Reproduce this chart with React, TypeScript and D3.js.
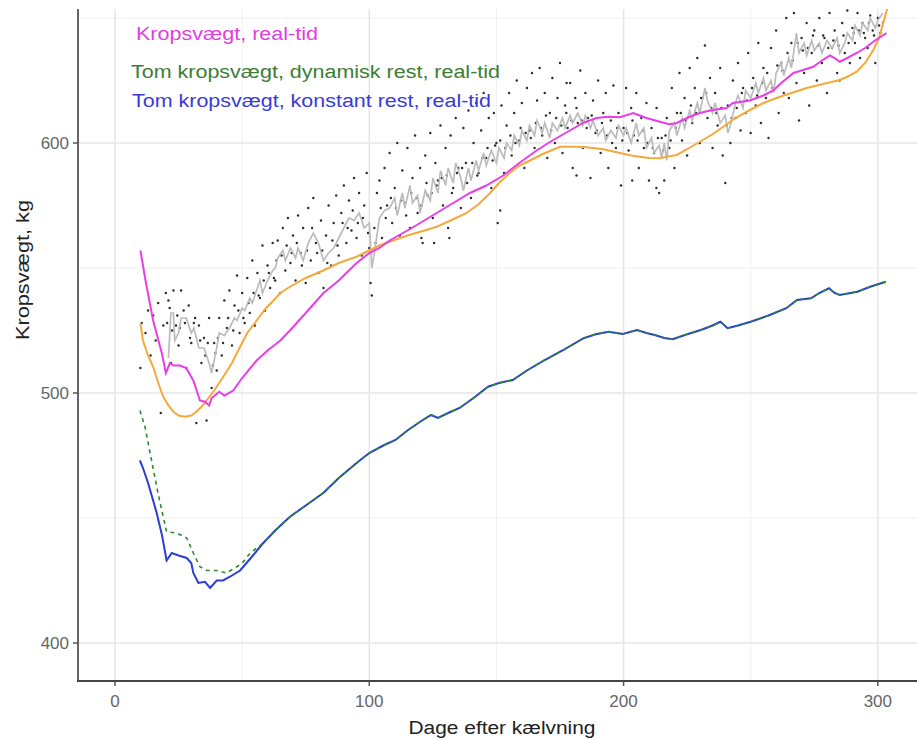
import React from "react";
import * as d3 from "d3";

type P = [number, number];

const xTicks = [0, 100, 200, 300];
const xMinor = [50, 150, 250];
const yTicks = [400, 500, 600];
const yMinor = [450, 550, 650];

const legendLabels = [
  "Kropsvægt, real-tid",
  "Tom kropsvægt, dynamisk rest, real-tid",
  "Tom kropsvægt, konstant rest, real-tid",
];

const rawDots: P[] = [
  [10,510],[10.5,528],[12,524],[13,533],[14,515],[15,531],[16,521],[17,536],[18,492],[19,527],[20,540],
  [21,537],[22,512],[23,541],[24,527],[25,519],[26,541],[27,533],[28,510],[29,535],[30,520],[31,528],[32,488],[33,527],[34,512],[35,522],[36,489],[37,530],[38,502],[39,520],[40,509],
  [41,530],[42,515],[43,537],[44,526],[45,541],[46,519],[47,535],[48,547],[49,524],[50,540],[51,528],[52,546],[53,532],[54,553],[55,527],[56,548],[57,538],[58,559],[59,533],[60,551],[61,542],[62,560],[63,545],
  [64,561],[65,540],[66,566],[67,549],[68,570],[69,552],[70,563],[71,545],[72,571],[73,556],[74,566],[75,544],[76,574],[77,553],[78,578],[79,560],[80,548],[81,569],[82,542],[83,563],[84,575],[85,551],[86,568],[87,579],[88,555],[89,572],[90,583],[91,560],[92,577],[93,565],[94,586],[95,562],[96,580],[97,555],[98,575],[99,588],[100,558],[100.5,544],[101,539],[102,566],[103,580],
  [104,585],[105,562],[106,590],[107,575],[108,596],[109,568],[110,582],[111,600],[112,563],[113,589],[114,576],[115,598],[116,566],[117,586],[118,603],[119,572],[120,590],[120.5,562],[121,560],[122,595],[123,579],[124,604],[125,570],[125.5,560],[126,592],[127,585],[128,607],[129,575],[130,598],[131,566],[131.5,562],[132,603],[133,582],[134,610],[135,590],[136,574],[137,606],[138,592],[139,613],[140,578],[141,600],[142,616],[143,588],[144,605],[145,620],[146,594],[147,610],[148,582],[149,612],[150,600],[150.5,568],[151.5,573],
  [152,615],[153,588],[154,607],[155,620],[156,595],[157,612],[158,625],[159,601],[160,616],[161,590],[162,622],[163,605],[164,628],[165,598],[166,617],[167,630],[168,603],[169,620],[170,594],[171,612],[172,626],[173,600],[174,618],[175,632],[176,596],[177,615],[177.6,624],[178,606],[179,624],[180,590],[181,618],[181.5,587],[182,608],[183,629],[184,598],[185,620],[186,610],[187,586],[188,617],[189,604],[190,625],[191,596],[192,612],[193,620],[194,590],[195,609],[196,623],[197,598],[198,612],[199,583],[200,606],[201,622],[202,597],[203,614],[203.4,585],[204,603],[205,620],[206,590],[207,610],[208,598],[209,616],[210,585],[211,606],[212,596],[212.9,582],[213,614],[214,580],[215,602],
  [216,585],[217,610],[218,598],[219,622],[220,590],[221,612],[222,628],[223,601],[224,618],[225,595],[226,630],[227,608],[228,622],[229,634],[230,600],[231,618],[232,639],[233,610],[234,626],[235,598],[236,620],[237,607],[238,630],[239,595],[240,584],[241,615],[242,600],[243,625],[244,610],[245,632],[246,605],[247,622],[248,612],[249,636],[250,604],[251,626],[252,615],[253,640],[254,608],[255,630],[256,618],[257,602],[258,638],[259,622],[260,645],[261,612],[262,632],[263,620],[264,650],[265,618],[266,640],[267,652],[268,624],[269,609],[270,642],[271,628],[272,648],[273,615],[274,636],[275,645],[276,625],[277,650],[278,632],[279,642],[280,620],[281,652],[282,638],[283,645],[284,628],[285,625],[286,648],[287,636],[288,653],[289,632],[290,646],[291,640],[292,652],[293,634],[294,648],[295,642],[296,638],[297,651],[298,645],[299,632],[300,650],[301,644],[302,648],
];

const nearDots: P[] = [
  [20.5,528],[21.5,534],[22.5,525],[24.5,531],[25.5,526],[27.5,528],[29.5,522],[31.5,530],[33.5,521],[35.5,515],[36.5,520],[38.5,511],[39.5,516],
  [40.5,522],[42.5,520],[44.5,530],[46.5,525],[48.5,533],[50.5,530],[52.5,536],[54.5,540],[56.5,539],[58.5,545],[60.5,548],[62.5,546],[63.5,553],
  [65.5,555],[67.5,559],[69.5,556],[71.5,560],[73.5,551],[75.5,557],[77.5,566],[79.5,556],[81.5,557],[83.5,552],[85.5,561],[87.5,559],[89.5,568],[91.5,566],[93.5,573],[95.5,568],[97.5,570],[99.5,564],
  [102.5,560],[104.5,574],[106.5,570],[108.5,578],[110.5,574],[112.5,577],[114.5,571],[116.5,580],[118.5,578],[120.5,575],[122.5,584],[124.5,580],[126.5,583],[128.5,586],[130.5,587],[132.5,580],[134.5,588],[136.5,590],[138.5,584],[140.5,592],[142.5,587],[144.5,594],[146.5,598],[148.5,593],[149.5,599],
  [151.5,601],[153.5,598],[155.5,603],[157.5,600],[159.5,606],[161.5,604],[163.5,602],[165.5,608],[167.5,606],[169.5,611],[171.5,605],[173.5,610],[175.5,607],[177.5,612],[179.5,609],[181.5,614],[183.5,609],[185.5,606],[187.5,611],[189.5,605],[191.5,608],[193.5,603],[195.5,600],[197.5,606],[199.5,601],[201.5,604],[203.5,609],[205.5,601],[207.5,605],[209.5,600],[211.5,598],[213.5,602],[215.5,597],
  [216.5,603],[218.5,601],[220.5,606],[222.5,612],[224.5,609],[226.5,615],[228.5,612],[230.5,618],[232.5,620],[234.5,614],[236.5,612],[238.5,614],[240.5,607],[242.5,610],[244.5,614],[246.5,620],[248.5,617],[250.5,622],[252.5,619],[254.5,624],[256.5,628],[258.5,622],[260.5,631],[262.5,629],[264.5,636],[266.5,633],[268.5,640],[270.5,637],[272.5,638],[274.5,643],[276.5,639],[278.5,643],[280.5,638],[282.5,641],[284.5,639],[286.5,643],[288.5,640],[290.5,644],[292.5,645],[294.5,644],[296.5,648],[298.5,643],[300.5,647],
];

const grayLine: P[] = [
  [21,514],[22,532],[23,532],[23.5,521],[25,524],[26,530],[28,530],[30,524],[31,526],[33,518],[35,518],[37,512],[38,508],[39,513],[40,518],[41,524],[43,523],[45,526],[47,530],[48,529],[50,534],[51,533],[53,538],[54,536],[56,542],[57,545],[58,540],[60,545],[62,549],[63,550],[64,554],[66,557],[67,553],[69,558],[71,554],[72,558],[74,553],[76,560],[78,564],[80,560],[82,553],[84,556],[86,558],[88,562],[90,566],[92,570],[94,569],[96,572],[98,566],[100,568],[101,550],[102,556],[104,570],[106,573],[108,574],
  [110,578],[111,571],[113,580],[114,574],[116,583],[117,576],[119,579],[120,572],[122,581],[124,577],[125,586],[127,580],[128,589],[130,583],[131,590],[133,584],[134,592],[136,586],[137,581],[139,590],[140,585],[142,593],[143,589],[145,596],[146,591],[148,597],[150,592],
  [151,598],[153,594],[154,600],[156,597],[157,603],[159,599],[160,605],[162,601],[163,607],[165,603],[166,609],[168,604],[169,608],[171,602],[172,608],[174,605],[176,610],[177,606],[179,611],[180,608],[182,612],[184,607],[185,611],[187,606],[188,609],[190,603],[192,606],[193,601],[195,605],[197,602],[198,607],[200,603],[201,606],[203,600],[205,608],[206,603],[208,606],[209,598],[211,602],[212,596],[214,599],[215,594],
  [216,600],[217,593],[218,605],[220,608],[221,603],[223,610],[224,606],[226,613],[227,609],[229,616],[230,612],[232,622],[233,617],[235,612],[236,616],[238,608],[240,611],[241,604],[242,607],[244,616],[245,619],[247,614],[248,621],[250,618],[252,624],[253,620],[255,626],[256,621],[258,625],[259,620],[260,628],[262,632],[263,627],[265,634],[266,630],[268,644],[269,636],[271,640],[272,635],[274,641],[275,637],[277,640],[278,636],[280,641],[282,638],[284,642],[285,636],[287,640],[288,644],[290,641],[291,647],[293,643],[294,648],[296,645],[297,650],[299,646],[300,649],[302,652],
];

const magentaLine: P[] = [
  [10,557],[12,545],[15,529],[18.4,516],[20,508],[21.6,512],[23,511],[25.6,511],[28,510],[30.8,505],[33.4,497],[35.4,496.5],[37,495],[38,498],[41,500.5],[43,499],[46.5,501],[50,506],[55.7,513],[60,517],[65,521],[68.8,525],[75,532],[82,540],[88,545],[95,552],[100,556],[104,558],[108,561],[115,565],[120,568],[126.5,572],[133,576],[139.6,580],[146,583],[152.7,587],[159,592],[165.8,597],[172,601],[178.9,605],[184,608],[189.4,610],[194,610.5],[198.6,610.3],[203.8,612],[206.4,611],[209,610],[214.3,608.5],[218,607.5],[220.9,608],[226,610.5],[230,612],[234,613],[240.5,614],[243,616],[249.7,617],[255,619],[258.9,621],[262,624],[266.8,628],[270,629],[274.6,630.5],[278,633],[281.2,635],[283,634],[285,632.5],[288,634],[291.7,636],[295,638],[298.2,640.5],[303.4,644],
];

const orangeLine: P[] = [
  [10,528],[11,521],[13,515],[15,510.5],[17,504],[19,498.5],[21,495],[23,492.5],[25,491],[27.5,490.5],[30,491],[32,492.5],[34,494.5],[36,497],[39,501],[42.6,506.5],[46,512],[49.2,518.5],[52,524],[55.7,529],[59,533.5],[62.3,537],[65,540],[68.8,542.5],[75,546],[81.9,549],[88,552],[95,554.5],[100,557],[104,559],[109.4,561],[115,563],[120,564.5],[126.5,566.5],[132,569],[138.3,572],[143,575.5],[147.5,580],[151,584],[155.3,588],[159,591],[163.2,593],[168,595.5],[175,598.5],[180,598.5],[185.5,598.3],[192,597.5],[198.6,596],[203,595],[206.4,594.5],[210,594],[214.3,593.9],[217,594.5],[220.9,595.2],[225,597.5],[230,600.5],[235,603.5],[239.2,606.5],[244,610],[249.7,613.2],[255,616],[261.5,618.5],[266,620],[272,622],[278,623.5],[285.1,625.2],[288,626.5],[291.7,628.5],[295,632],[298.2,637.2],[300.5,642],[302.1,648],[303.5,653],[304.5,658],
];

const blueLine: P[] = [
  [9.8,473],[11,470],[13,464],[15,457],[16.4,452],[18.5,443],[20.3,433],[22.3,436],[25,435],[28.2,434],[30,432],[30.8,428],[32.8,424],[35.4,424.5],[37.4,422],[40,425],[42.5,425],[45.2,426.5],[49.2,429],[53,433.5],[58.3,440],[63,445],[68.8,450.5],[75,455],[81.9,460],[88,466],[95,472],[100,476],[105.5,479],[110.3,481.2],[115,485],[120,488.5],[124.3,491.2],[127,490],[131,492],[135.5,494],[141,498],[146.7,502.5],[151,504],[156.4,505.2],[162,509],[169,513.2],[176,517],[184.3,521.9],[189,523.5],[194.1,524.5],[199.7,523.6],[205.3,525.2],[209,524],[212.3,523.2],[216,522],[219.3,521.5],[225,523.5],[230.4,525.2],[235,527],[238.1,528.5],[240.9,525.9],[245,527],[250,528.5],[257,531],[264,533.9],[268.2,537.2],[273.7,537.9],[277,540],[280.8,541.9],[283,540],[285,539.2],[291.9,540.5],[297,542.5],[303.1,544.5],
];

const greenEarly: P[] = [
  [9.8,493],[11.8,486.5],[13.8,476],[16.4,462.5],[18.4,453],[20.3,444.5],[24.3,444],[28.2,442],[30.8,436],[33.4,430.5],[36.1,429],[40,429],[43.9,428],[47.9,430.5],[50,432],[53.1,435.9],
];

const W = 917;
const H = 740;
const left = 78, right = 917, top = 9, bottom = 681;

export default function App() {
  const x = d3.scaleLinear().domain([-14.55, 315.4]).range([left, right]);
  const y = d3.scaleLinear().domain([384.8, 653.6]).range([bottom, top]);
  const line = d3.line<P>().x((d) => x(d[0])).y((d) => y(d[1]));
  const greenLine: P[] = greenEarly.concat(blueLine.filter((d) => d[0] > 55));
  const allDots: P[] = rawDots.concat(nearDots);
  const font = "'Liberation Sans', Arial, sans-serif";

  return (
    <div style={{ position: "absolute", left: 0, top: 0 }}>
      <svg width={W} height={H} style={{ display: "block", background: "#fff" }}>
        <defs>
          <clipPath id="panel">
            <rect x={left} y={top} width={right - left} height={bottom - top} />
          </clipPath>
        </defs>
        {yMinor.map((v) => (
          <line key={"ym" + v} x1={left} x2={right} y1={y(v)} y2={y(v)} stroke="#f0f0f0" strokeWidth={1} />
        ))}
        {xMinor.map((v) => (
          <line key={"xm" + v} x1={x(v)} x2={x(v)} y1={top} y2={bottom} stroke="#f0f0f0" strokeWidth={1} />
        ))}
        {yTicks.map((v) => (
          <line key={"yg" + v} x1={left} x2={right} y1={y(v)} y2={y(v)} stroke="#e6e6e6" strokeWidth={1.5} />
        ))}
        {xTicks.map((v) => (
          <line key={"xg" + v} x1={x(v)} x2={x(v)} y1={top} y2={bottom} stroke="#e6e6e6" strokeWidth={1.5} />
        ))}
        <g clipPath="url(#panel)">
          {allDots.map((d, i) => (
            <circle key={i} cx={x(d[0])} cy={y(d[1])} r={1.2} fill="#2b2b2b" />
          ))}
          <path d={line(grayLine) || ""} fill="none" stroke="#bcbcbc" strokeWidth={1.7} />
          <path d={line(orangeLine) || ""} fill="none" stroke="#f4a93a" strokeWidth={2} />
          <path d={line(magentaLine) || ""} fill="none" stroke="#e83ee8" strokeWidth={2} />
          <path d={line(blueLine) || ""} fill="none" stroke="#2a3fd4" strokeWidth={2} />
          <path d={line(greenLine) || ""} fill="none" stroke="#2f8a2f" strokeWidth={1.6} strokeDasharray="4,4" />
        </g>
        <line x1={left} x2={left} y1={top} y2={bottom} stroke="#666" strokeWidth={2} />
        <line x1={left - 1} x2={right} y1={bottom} y2={bottom} stroke="#444" strokeWidth={2} />
        {yTicks.map((v) => (
          <g key={"yt" + v}>
            <line x1={left - 5} x2={left} y1={y(v)} y2={y(v)} stroke="#555" strokeWidth={1.5} />
            <text x={left - 9} y={y(v)} dy="0.35em" textAnchor="end" fontFamily={font} fontSize={17} fill="#666">
              {v}
            </text>
          </g>
        ))}
        {xTicks.map((v) => (
          <g key={"xt" + v}>
            <line x1={x(v)} x2={x(v)} y1={bottom} y2={bottom + 5} stroke="#555" strokeWidth={1.5} />
            <text x={x(v)} y={bottom + 20} dy="0.35em" textAnchor="middle" fontFamily={font} fontSize={17} fill="#666">
              {v}
            </text>
          </g>
        ))}
        <text x={502} y={728} dy="0.35em" textAnchor="middle" fontFamily={font} fontSize={18} fill="#222" textLength={187} lengthAdjust="spacingAndGlyphs">
          Dage efter kælvning
        </text>
        <text transform={`translate(23,${270}) rotate(-90)`} textAnchor="middle" dy="0.35em" fontFamily={font} fontSize={18} fill="#222" textLength={140} lengthAdjust="spacingAndGlyphs">
          Kropsvægt, kg
        </text>
        <text x={136} y={40} fontFamily={font} fontSize={18} fill="#e03ee0" textLength={182} lengthAdjust="spacingAndGlyphs">{legendLabels[0]}</text>
        <text x={131} y={78} fontFamily={font} fontSize={18} fill="#3c7d32" textLength={369} lengthAdjust="spacingAndGlyphs">{legendLabels[1]}</text>
        <text x={132} y={107} fontFamily={font} fontSize={18} fill="#3a3ad8" textLength={359} lengthAdjust="spacingAndGlyphs">{legendLabels[2]}</text>
      </svg>
    </div>
  );
}
